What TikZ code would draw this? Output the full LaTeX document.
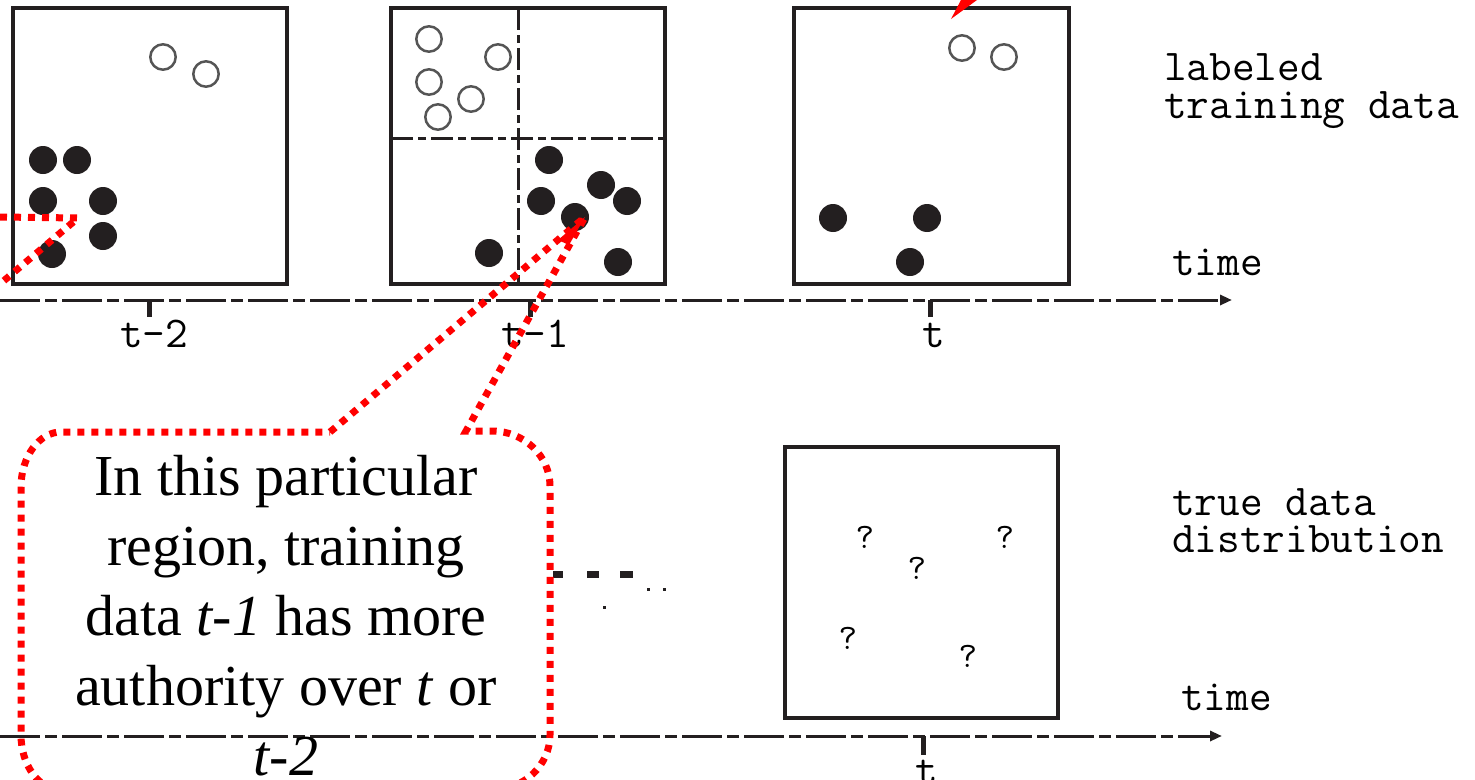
\documentclass[tikz,border=0pt]{standalone}
\usepackage{fontspec}
\setmainfont{Liberation Serif}
\usetikzlibrary{arrows.meta}
\definecolor{ink}{HTML}{231F20}
\definecolor{ringgray}{HTML}{555555}
\begin{document}
\begin{tikzpicture}[x=1pt,y=-1pt,
  box/.style={draw=ink,line width=3.5pt},
  divider/.style={draw=ink,line width=3pt,dash pattern=on 22pt off 5pt on 8pt off 5pt},
  timeline/.style={draw=ink,line width=3pt,dash pattern=on 40pt off 5pt on 12pt off 5pt,-{Triangle[length=12pt,width=10pt]}},
  tickmark/.style={draw=ink,line width=5pt},
  posdot/.style={fill=ink},
  negdot/.style={draw=ringgray,line width=2.5pt},
  callout/.style={draw=red,line width=7pt,dash pattern=on 7pt off 7pt},
  mono/.style={font=\fontsize{44}{38}\selectfont\ttfamily,inner sep=0pt,anchor=base west},
  ticklabel/.style={font=\fontsize{44}{38}\selectfont\ttfamily,inner sep=0pt,anchor=base},
  qmark/.style={font=\fontsize{36}{40}\selectfont\ttfamily,inner sep=0pt},
  serif/.style={font=\fontsize{58}{70}\selectfont,inner sep=0pt,anchor=base}
]
\useasboundingbox (0,0) rectangle (1475,779);
\clip (0,0) rectangle (1475,779);

% ---------- top row boxes ----------
\draw[box] (13,8) rectangle (287,284);
\draw[box] (391,8) rectangle (665,284);
\draw[box] (794,8) rectangle (1069,284);
\draw[divider] (518,8) -- (518,284);
\draw[divider] (391,138) -- (665,138);

% box t-2
\foreach \p in {(163,57),(206,74)} \draw[negdot] \p circle[radius=12.7];
\foreach \p in {(43,160),(77,160),(43,201),(103,201),(103,236),(52,254)} \fill[posdot] \p circle[radius=14];
% box t-1
\foreach \p in {(429,39),(498,57),(429,82),(471,99),(438,117)} \draw[negdot] \p circle[radius=12.7];
\foreach \p in {(549,160),(541,201),(601,185),(627,201),(575,217),(489,253),(618,262)} \fill[posdot] \p circle[radius=14];
% box t
\foreach \p in {(962,48),(1004,57)} \draw[negdot] \p circle[radius=12.7];
\foreach \p in {(833,218),(927,218),(910,262)} \fill[posdot] \p circle[radius=14];

% ---------- top timeline ----------
\coordinate (tlA) at (0,300);
\coordinate (tlB) at (1232,300);
\draw[timeline] (tlA) -- (tlB);
\coordinate (k2) at (149,300);
\coordinate (k1) at (530,300);
\coordinate (k0) at (930,300);
\draw[tickmark] (k2) -- ++(0,17);
\draw[tickmark] (k1) -- ++(0,17);
\draw[tickmark] (k0) -- ++(0,17);
\node[ticklabel] (l2) at (154,347) {t-2};
\node[ticklabel] (l1) at (535,347) {t-1};
\node[ticklabel] (l0) at (934,347) {t};
\node[mono] (time1) at (1172,275) {time};
\node[mono] (lab1) at (1164,80) {labeled};
\node[mono] (lab2) at (1164,118) {training data};

% ---------- bottom ----------
\draw[box] (785,447) rectangle (1058,718);
\node[qmark] (q1) at (865,537) {?};
\node[qmark] (q2) at (1005,537) {?};
\node[qmark] (q3) at (917,568) {?};
\node[qmark] (q4) at (848,638) {?};
\node[qmark] (q5) at (968,656) {?};
\coordinate (blA) at (0,736);
\coordinate (blB) at (1222,736);
\draw[timeline] (blA) -- (blB);
\coordinate (kb) at (923,736);
\draw[tickmark] (kb) -- ++(0,19);
\node[ticklabel] (lb) at (927,784) {t};
\node[mono] (time2) at (1181,710) {time};
\node[mono] (tr1) at (1172,515) {true data};
\node[mono] (tr2) at (1172,552) {distribution};

% small marks
\draw[ink,line width=7pt] (553,574) -- (563,574);
\draw[ink,line width=7pt] (587,574) -- (599,574);
\draw[ink,line width=7pt] (620,574) -- (633,574);
\fill[ink] (646.5,587.5) rectangle (649.5,590.5);
\fill[ink] (662.5,587.5) rectangle (665.5,590.5);
\fill[ink] (602.5,605.5) rectangle (605.5,608.5);

% ---------- callout ----------
\coordinate (tip) at (585,217);
\draw[callout] (330,432) -- (tip) -- (466,431) -- (492,431)
  .. controls (524,431) and (550,456) .. (550,486) -- (550,735)
  .. controls (550,765) and (524,790) .. (492,790) -- (61,790)
  .. controls (39,790) and (21,765) .. (21,735) -- (21,487)
  .. controls (21,457) and (39,432) .. (61,432) -- cycle;
\fill[red] (tip) -- (558,240) -- (569,245) -- cycle;
\node[serif] (c1) at (286,495) {In this particular};
\node[serif] (c2) at (286,565) {region, training};
\node[serif] (c3) at (286,635) {data \textit{t-1} has more};
\node[serif] (c4) at (286,705) {authority over \textit{t} or};
\node[serif] (c5) at (286,775) {\textit{t-2}};

% other callout pointers (cut off)
\coordinate (tipL) at (78,218);
\draw[callout] (0,217) -- (tipL) -- (0,284);
\coordinate (tipT) at (951,19);
\fill[red] (tipT) -- (961,0) -- (977,0) -- cycle;
\end{tikzpicture}
\end{document}
